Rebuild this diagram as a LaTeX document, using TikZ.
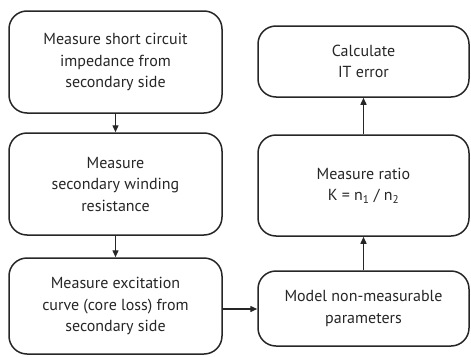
\documentclass[tikz,border=0pt]{standalone}
\usepackage{fontspec}
\setmainfont{PT Sans}
\usetikzlibrary{arrows.meta}
\begin{document}
\begin{tikzpicture}[x=1pt,y=-1pt,
  box/.style={draw=black!85, line width=1.5pt, rounded corners=18pt, align=center,
    inner sep=0pt, font=\fontsize{16}{21.5}\selectfont, text=black!85},
  conn/.style={line width=1.4pt, draw=black!85, -{Triangle[length=7pt,width=6pt]}}]
\useasboundingbox (0,0) rectangle (471,356);
\node[box, minimum width=213pt, minimum height=102pt] (b1) at (115.5,62) {Measure short circuit\\impedance from\\secondary side};
\node[box, minimum width=213pt, minimum height=102pt] (b2) at (115.5,184) {Measure\\secondary winding\\resistance};
\node[box, minimum width=213pt, minimum height=96pt] (b3) at (115.5,306) {Measure excitation\\curve (core loss) from\\secondary side};
\node[box, minimum width=211pt, minimum height=71pt] (r1) at (363.5,61.5) {Calculate\\IT error};
\node[box, minimum width=211pt, minimum height=101pt] (r2) at (363.5,185.5) {Measure ratio\\K = n\textsubscript{1} / n\textsubscript{2}};
\node[box, minimum width=211pt, minimum height=75pt] (r3) at (363.5,308.5) {Model non-measurable\\parameters};
\draw[conn] (b1) -- (b2);
\draw[conn] (b2) -- (b3);
\draw[conn] (b3.east |- 0,309) -- (r3.west |- 0,309);
\draw[conn] (r3.north) -- (r2.south);
\draw[conn] (r2.north) -- (r1.south);
\end{tikzpicture}
\end{document}
